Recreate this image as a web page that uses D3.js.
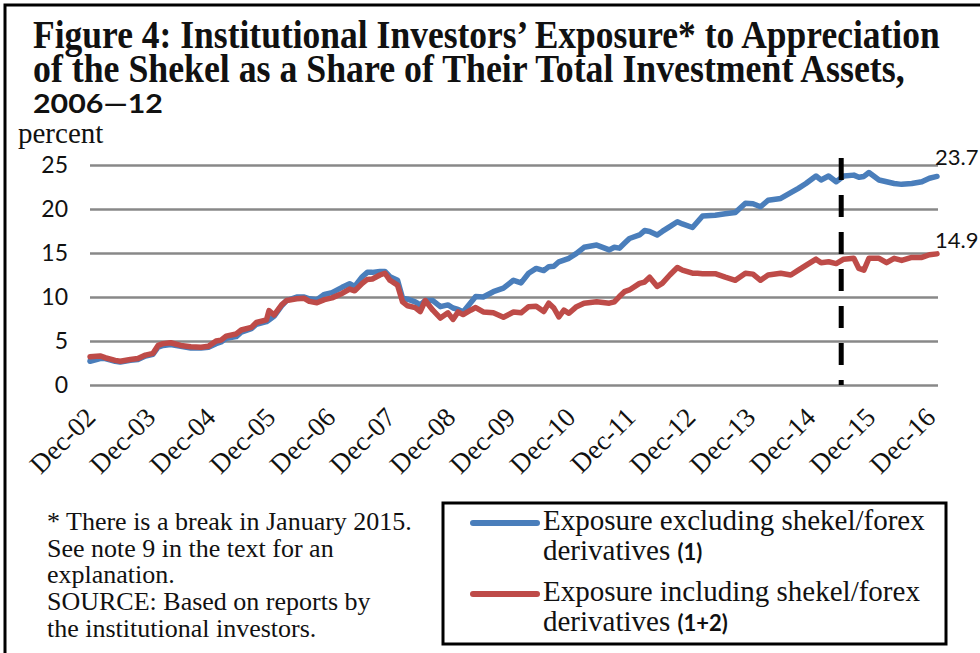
<!DOCTYPE html>
<html>
<head>
<meta charset="utf-8">
<script src="https://cdn.jsdelivr.net/npm/d3@7/dist/d3.min.js"></script>
<style>
html,body{margin:0;padding:0;background:#fff;}
svg{display:block;}
</style>
</head>
<body>
<svg id="chart" width="980" height="653"></svg>
<script>
// ---------- DATA ----------
// months since Dec-2002
const months = [0,2,3,5,6,8,9.5,11,12.5,13.5,14.5,16,18,20,22,23.5,25,26,27,29,30,32,33,35,35.5,36.5,38,39,41,42.5,43.5,45,46.5,48,50,51.5,52.5,54,55,56,57.5,58.5,59.5,61,62,63,64.5,65.5,66.5,68,69.5,71,72,73,74,75.5,76.5,78,80,82,84,85.5,87,88.5,90,91,92,93,94,95,96.5,98,100.5,103,104,105,106,107,109,110,111,112.5,113.5,115,116.5,117.5,119.5,120.5,121.5,124,126,128,130,131.5,133,134.5,137,139,140.5,142,144,145,146.5,148,149.5,151.5,152.5,153.5,154.5,156.5,158,159.5,161,163,165,166.5,168];
const excludingDerivatives = [2.7,3.0,3.0,2.7,2.6,2.8,2.9,3.3,3.5,4.3,4.5,4.6,4.4,4.2,4.2,4.3,4.7,4.9,5.3,5.5,6.0,6.4,6.9,7.2,7.4,7.8,9.0,9.6,10.0,10.0,9.8,9.7,10.3,10.5,11.1,11.5,11.2,12.3,12.8,12.8,12.9,12.9,12.3,11.9,9.85,9.75,9.45,9.1,9.6,9.6,8.9,9.1,8.75,8.6,8.3,9.35,10.05,10.0,10.6,11.0,11.9,11.6,12.7,13.25,13.0,13.45,13.5,14.0,14.2,14.4,14.95,15.65,15.9,15.35,15.65,15.55,16.1,16.65,17.05,17.55,17.45,17.05,17.45,18.0,18.55,18.3,17.9,18.55,19.2,19.3,19.45,19.6,20.65,20.6,20.25,21.0,21.2,21.85,22.35,22.9,23.75,23.3,23.75,23.1,23.75,23.85,23.6,23.7,24.15,23.3,23.1,22.9,22.8,22.9,23.1,23.5,23.7];
const includingDerivatives = [3.2,3.3,3.1,2.8,2.7,2.9,3.0,3.4,3.6,4.5,4.7,4.8,4.5,4.35,4.3,4.4,5.0,5.1,5.55,5.8,6.25,6.55,7.1,7.4,8.45,7.95,9.1,9.6,9.8,9.85,9.5,9.35,9.7,9.9,10.4,10.9,10.7,11.55,12.0,12.05,12.5,12.7,11.9,11.35,9.45,9.0,8.8,8.35,9.6,8.5,7.6,8.2,7.45,8.3,8.0,8.5,8.8,8.3,8.2,7.7,8.3,8.2,8.9,8.95,8.35,9.3,8.75,7.75,8.5,8.15,8.9,9.3,9.45,9.3,9.45,10.05,10.6,10.8,11.55,11.7,12.25,11.2,11.55,12.5,13.35,13.05,12.7,12.7,12.65,12.65,12.25,11.9,12.7,12.6,11.9,12.5,12.7,12.5,13.05,13.6,14.3,13.9,14.0,13.8,14.3,14.4,13.25,13.05,14.4,14.4,13.9,14.4,14.15,14.5,14.5,14.8,14.9];
const xTickLabels = ["Dec-02","Dec-03","Dec-04","Dec-05","Dec-06","Dec-07","Dec-08","Dec-09","Dec-10","Dec-11","Dec-12","Dec-13","Dec-14","Dec-15","Dec-16"];
const yTicks = [0,5,10,15,20,25];
const breakMonth = 149;          // dashed break line (January 2015)
const endLabels = ["23.7","14.9"];
const seriesNames = ["Exposure excluding shekel/forex","Exposure including shekel/forex"];
const seriesNames2 = ["derivatives ","derivatives "];
const seriesTags = ["(1)","(1+2)"];
const titleLines = ["Figure 4: Institutional Investors\u2019 Exposure* to Appreciation","of the Shekel as a Share of Their Total Investment Assets,","2006\u201412"];
const noteLines = ["* There is a break in January 2015.","See note 9 in the text for an","explanation.","SOURCE: Based on reports by","the institutional investors."];

// ---------- LAYOUT ----------
const svg = d3.select("#chart");
const plot = {left:90, right:938, top:165, bottom:385};
const colors = ["#4a7ebb","#be4b48"];
const serif = "'Liberation Serif','Times New Roman',serif";
const sans = "Lato,'Open Sans',sans-serif";

const x = d3.scaleLinear().domain([0,168]).range([plot.left, plot.right-1]);
const y = d3.scaleLinear().domain([0,25]).range([plot.bottom, plot.top]);
const xLabelPos = d3.scalePoint().domain(xTickLabels).range([97, 937]);

// outer frame
svg.append("path").attr("d","M5,660 L5,5 L990,5").attr("fill","none").attr("stroke","#000").attr("stroke-width",3);

// title (condensed horizontally to the reference widths)
const tl = [{w:907,b:48,size:40,f:serif},{w:872,b:82,size:40,f:serif},{w:130,b:113,size:26,f:sans}];
titleLines.forEach((t,i)=>{
  const g = svg.append("g");
  const txt = g.append("text").attr("x",0).attr("y",0).attr("font-family",tl[i].f)
    .attr("font-weight","bold").attr("font-size",tl[i].size).attr("fill","#111").text(t);
  const natural = txt.node().getComputedTextLength();
  g.attr("transform",`translate(33,${tl[i].b}) scale(${tl[i].w/natural},1)`);
});

svg.append("text").attr("x",18).attr("y",143).attr("font-family",serif).attr("font-size",29).attr("fill","#111").text("percent");

// grid + y axis
const yAxis = d3.axisLeft(y).tickValues(yTicks).tickSize(-(plot.right-plot.left)).tickPadding(22);
const gy = svg.append("g").attr("transform",`translate(${plot.left},0)`).call(yAxis);
gy.select(".domain").remove();
gy.selectAll(".tick line").attr("stroke","#888").attr("stroke-width",2.5);
gy.selectAll(".tick text").attr("font-family",sans).attr("font-size",23).attr("fill","#111");

// x labels
const xLab = svg.append("g");
xTickLabels.forEach(t=>{
  xLab.append("text").attr("transform",`translate(${xLabelPos(t)},419) rotate(-45)`)
    .attr("text-anchor","end").attr("font-family",serif).attr("font-size",27).attr("fill","#111").text(t);
});

// lines
const data = [excludingDerivatives, includingDerivatives];
const line = d3.line().x((d,i)=>x(months[i])).y(d=>y(d));
data.forEach((s,k)=>{
  svg.append("path").datum(s).attr("d",line).attr("fill","none").attr("stroke",colors[k])
    .attr("stroke-width",5.5).attr("stroke-linejoin","round").attr("stroke-linecap","round");
});

// break line
svg.append("line").attr("x1",x(breakMonth)).attr("x2",x(breakMonth)).attr("y1",158).attr("y2",y(0))
  .attr("stroke","#000").attr("stroke-width",5).attr("stroke-dasharray","22,15");

// end labels
const endDy = [-11,-6];
data.forEach((s,k)=>{
  svg.append("text").attr("x",x(months[months.length-1])-2).attr("y",y(s[s.length-1])+endDy[k])
    .attr("font-family",sans).attr("font-size",22).attr("fill","#111").text(endLabels[k]);
});

// footnote
noteLines.forEach((t,i)=>{
  svg.append("text").attr("x",47).attr("y",530+i*26.7).attr("font-family",serif).attr("font-size",26).attr("fill","#111").text(t);
});

// legend
svg.append("rect").attr("x",443).attr("y",503).attr("width",503).attr("height",141).attr("fill","none").attr("stroke","#000").attr("stroke-width",3);
[0,1].forEach(k=>{
  const by = 530 + k*71;
  svg.append("line").attr("x1",473).attr("x2",537).attr("y1",by-7).attr("y2",by-7)
    .attr("stroke",colors[k]).attr("stroke-width",6).attr("stroke-linecap","round");
  svg.append("text").attr("x",543).attr("y",by).attr("font-family",serif).attr("font-size",29).attr("fill","#111").text(seriesNames[k]);
  const t2 = svg.append("text").attr("x",543).attr("y",by+30).attr("font-family",serif).attr("font-size",29).attr("fill","#111");
  t2.append("tspan").text(seriesNames2[k]);
  t2.append("tspan").attr("font-family",sans).attr("font-weight","bold").attr("font-size",22).text(seriesTags[k]);
});
</script>
</body>
</html>
